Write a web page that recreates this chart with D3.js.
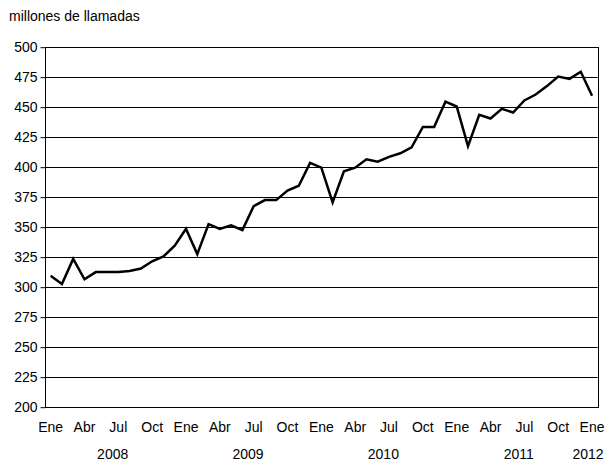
<!DOCTYPE html>
<html><head><meta charset="utf-8">
<script src="https://cdn.jsdelivr.net/npm/d3@7"></script>
<style>body{margin:0;background:#fff}svg{display:block}text{font-family:"Liberation Sans",Arial,sans-serif;fill:#000}</style>
</head><body><svg id="c" width="611" height="464"></svg>
<script>
const values = [310,303,324,307,313,313,313,314,316,322,326,335,349,328,353,349,352,348,368,373,373,381,385,404,400,371,397,400,407,405,409,412,417,434,434,455,451,418,444,441,449,446,456,461,468,476,474,480,460];
const monthNames = ["Ene","Feb","Mar","Abr","May","Jun","Jul","Ago","Sep","Oct","Nov","Dic"];
const years = [2008,2009,2010,2011,2012];
const yTicks = [200,225,250,275,300,325,350,375,400,425,450,475,500];
const yTitle = "millones de llamadas";

const svg = d3.select("#c");
const L = 45, R = 597.7, T = 47.7, B = 407.7;
const idx = d3.range(values.length);
const x = d3.scaleBand().domain(idx).range([L, R]);
const cx = i => x(i) + x.bandwidth()/2;
const y = d3.scaleLinear().domain([200,500]).range([B, T]);

// gridlines
svg.append("g").selectAll("line").data(yTicks).join("line")
  .attr("x1", L).attr("x2", R)
  .attr("y1", d => Math.round(y(d))-0.5).attr("y2", d => Math.round(y(d))-0.5)
  .attr("stroke", "#000").attr("stroke-width", 1);

// frame
svg.append("rect").attr("x", Math.round(L)+0.5).attr("y", Math.round(T)-0.5)
  .attr("width", Math.round(R)-Math.round(L)).attr("height", Math.round(B)-Math.round(T))
  .attr("fill","none").attr("stroke","#000");

// y axis
const yAxis = d3.axisLeft(y).tickValues(yTicks).tickSize(5).tickPadding(3);
const gy = svg.append("g").attr("transform", `translate(${Math.round(L)+0.5},-0.5)`).call(yAxis);
gy.select(".domain").remove();
gy.selectAll("line").attr("stroke","#000");
gy.selectAll("text").style("font-size","14px").attr("font-family",'"Liberation Sans",Arial,sans-serif');

// x axis month labels
const labelIdx = idx.filter(i => i % 3 === 0);
const xAxis = d3.axisBottom(x).tickValues(labelIdx).tickSize(0).tickPadding(14)
  .tickFormat(i => monthNames[i % 12]);
const gx = svg.append("g").attr("transform", `translate(0,${B})`).call(xAxis);
gx.select(".domain").remove();
gx.selectAll("text").style("font-size","14px").attr("font-family",'"Liberation Sans",Arial,sans-serif');

// year labels
const yearPos = years.map((yr, k) => {
  const s = k*12, e = Math.min(k*12+11, values.length-1);
  return {yr, x: (cx(s)+cx(e))/2};
});
svg.append("g").selectAll("text").data(yearPos).join("text")
  .attr("x", d => Math.min(d.x, 588)).attr("y", 459)
  .attr("text-anchor","middle").style("font-size","14px")
  .text(d => d.yr);

// title
svg.append("text").attr("x", 9).attr("y", 21).style("font-size","14px").text(yTitle);

// line
svg.append("path").datum(values)
  .attr("fill","none").attr("stroke","#000").attr("stroke-width",2.5)
  .attr("stroke-linejoin","miter")
  .attr("d", d3.line().x((d,i) => cx(i)).y(d => y(d)));
</script></body></html>
